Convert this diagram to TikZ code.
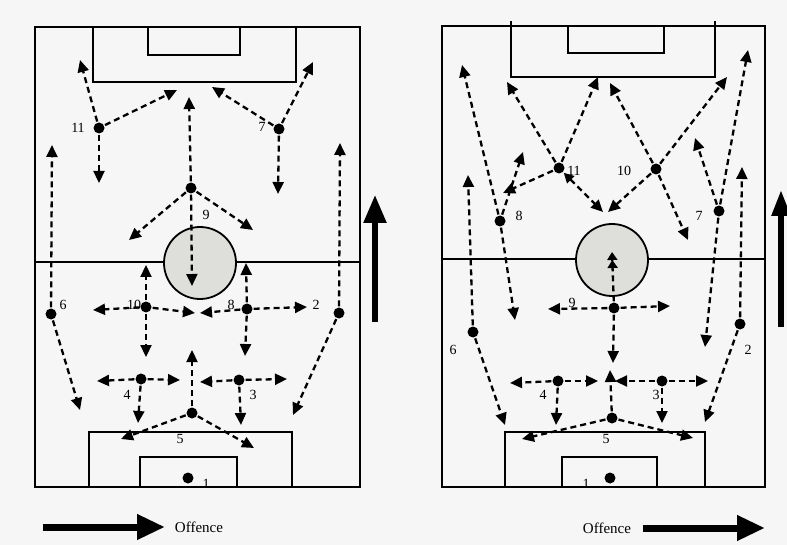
\documentclass[tikz,border=0pt]{standalone}
\usepackage{fontspec}
\setmainfont{Liberation Serif}
\usetikzlibrary{arrows.meta}
\definecolor{paper}{RGB}{246,246,246}
\definecolor{circfill}{RGB}{222,223,219}
\tikzset{
  pitchline/.style={line width=1.8pt, line cap=rect},
  player/.style={circle, fill=black, inner sep=0pt, minimum size=11pt},
  run/.style={line width=2.3pt, dash pattern=on 6pt off 4pt,
    -{Triangle[length=12pt,width=11pt]}, shorten <=1pt},
  num/.style={font=\fontsize{14}{14}\selectfont, inner sep=0pt},
  bigarrow/.style={line width=5.5pt, -{Triangle[length=28pt,width=22pt]}},
  offarrow/.style={line width=7pt, -{Triangle[length=28pt,width=24pt]}},
}
\begin{document}
\begin{tikzpicture}[x=1pt, y=-1pt]
\useasboundingbox[fill=paper] (0,0) rectangle (787,545);

% ---------------- left pitch ----------------
\draw[pitchline] (35,27) rectangle (360,487);
\draw[pitchline] (35,262) -- (164,262);
\draw[pitchline] (236,262) -- (360,262);
\draw[pitchline] (93,27) rectangle (296,82);
\draw[pitchline] (148,27) rectangle (240,55);
\draw[pitchline] (89,487) -- (89,432) -- (292,432) -- (292,487);
\draw[pitchline] (140,487) -- (140,457) -- (237,457) -- (237,487);
\draw[pitchline, fill=circfill] (200,263) circle (36);

\node[player] (L1)  at (188,478) {};
\node[player] (L2)  at (339,313) {};
\node[player] (L3)  at (239,380) {};
\node[player] (L4)  at (141,379) {};
\node[player] (L5)  at (192,413) {};
\node[player] (L6)  at (51,314) {};
\node[player] (L7)  at (279,129) {};
\node[player] (L8)  at (247,309) {};
\node[player] (L9)  at (191,188) {};
\node[player] (L10) at (146,307) {};
\node[player] (L11) at (99,128) {};

\node[num] (tL1)  at (206,484) {1};
\node[num] (tL2)  at (316,305) {2};
\node[num] (tL3)  at (253,395) {3};
\node[num] (tL4)  at (127,395) {4};
\node[num] (tL5)  at (180,439) {5};
\node[num] (tL6)  at (63,305) {6};
\node[num] (tL7)  at (262,127) {7};
\node[num] (tL8)  at (231,305) {8};
\node[num] (tL9)  at (206,215) {9};
\node[num] (tL10) at (134,305) {10};
\node[num] (tL11) at (78,128) {11};

\coordinate (L11a) at (80,60);   \coordinate (L11b) at (177,90);  \coordinate (L11c) at (99,183);
\coordinate (L7a) at (212,87);   \coordinate (L7b) at (313,62);   \coordinate (L7c) at (278,194);
\coordinate (L9a) at (189,97);   \coordinate (L9b) at (192,286);
\coordinate (L9c) at (129,240);  \coordinate (L9d) at (253,230);
\coordinate (L6a) at (52,145);   \coordinate (L6b) at (80,410);
\coordinate (L2a) at (340,143);  \coordinate (L2b) at (293,415);
\coordinate (L10a) at (93,310);  \coordinate (L10b) at (195,313);
\coordinate (L10c) at (146,265); \coordinate (L10d) at (146,357);
\coordinate (L8a) at (200,313);  \coordinate (L8b) at (307,307);
\coordinate (L8c) at (246,263);  \coordinate (L8d) at (245,356);
\coordinate (L4a) at (97,381);   \coordinate (L4b) at (180,380);  \coordinate (L4c) at (138,423);
\coordinate (L3a) at (200,382);  \coordinate (L3b) at (287,379);  \coordinate (L3c) at (241,425);
\coordinate (L5a) at (192,350);  \coordinate (L5b) at (121,439);  \coordinate (L5c) at (254,448);

\foreach \p/\q in {L11/L11a, L11/L11b, L11/L11c, L7/L7a, L7/L7b, L7/L7c,
  L9/L9a, L9/L9b, L9/L9c, L9/L9d, L6/L6a, L6/L6b, L2/L2a, L2/L2b,
  L10/L10a, L10/L10b, L10/L10c, L10/L10d, L8/L8a, L8/L8b, L8/L8c, L8/L8d,
  L4/L4a, L4/L4b, L4/L4c, L3/L3a, L3/L3b, L3/L3c, L5/L5a, L5/L5b, L5/L5c}
  \draw[run] (\p) -- (\q);

% ---------------- right pitch ----------------
\draw[pitchline] (442,26) rectangle (765,487);
\draw[pitchline] (442,259) -- (577,259);
\draw[pitchline] (647,259) -- (765,259);
\draw[pitchline] (511,22) -- (511,77) -- (715,77) -- (715,22);
\draw[pitchline] (568,26) rectangle (664,53);
\draw[pitchline] (505,487) -- (505,432) -- (705,432) -- (705,487);
\draw[pitchline] (562,487) -- (562,457) -- (657,457) -- (657,487);
\draw[pitchline, fill=circfill] (612,260) circle (36);

\node[player] (R1)  at (610,478) {};
\node[player] (R2)  at (740,324) {};
\node[player] (R3)  at (662,381) {};
\node[player] (R4)  at (558,381) {};
\node[player] (R5)  at (612,418) {};
\node[player] (R6)  at (473,332) {};
\node[player] (R7)  at (719,211) {};
\node[player] (R8)  at (500,221) {};
\node[player] (R9)  at (614,308) {};
\node[player] (R10) at (656,169) {};
\node[player] (R11) at (559,168) {};

\node[num] (tR1)  at (586,484) {1};
\node[num] (tR2)  at (748,350) {2};
\node[num] (tR3)  at (656,395) {3};
\node[num] (tR4)  at (543,395) {4};
\node[num] (tR5)  at (606,439) {5};
\node[num] (tR6)  at (453,350) {6};
\node[num] (tR7)  at (699,216) {7};
\node[num] (tR8)  at (519,216) {8};
\node[num] (tR9)  at (572,303) {9};
\node[num] (tR10) at (624,171) {10};
\node[num] (tR11) at (574,171) {11};

\coordinate (R11a) at (507,82);  \coordinate (R11b) at (598,77);
\coordinate (R11c) at (503,193); \coordinate (R11d) at (603,212);
\coordinate (R10a) at (610,83);  \coordinate (R10b) at (727,77);
\coordinate (R10c) at (608,212); \coordinate (R10d) at (688,240);
\coordinate (R8a) at (462,65);   \coordinate (R8b) at (523,152);  \coordinate (R8c) at (515,320);
\coordinate (R7a) at (695,138);  \coordinate (R7b) at (748,50);   \coordinate (R7c) at (705,347);
\coordinate (R6a) at (468,175);  \coordinate (R6b) at (505,425);
\coordinate (R2a) at (742,167);  \coordinate (R2b) at (705,422);
\coordinate (R9a) at (612,252);  \coordinate (R9b) at (548,309);
\coordinate (R9c) at (670,306);  \coordinate (R9d) at (613,363);
\coordinate (R4a) at (510,383);  \coordinate (R4b) at (598,381);  \coordinate (R4c) at (556,425);
\coordinate (R3a) at (615,381);  \coordinate (R3b) at (708,381);  \coordinate (R3c) at (662,423);
\coordinate (R5a) at (610,370);  \coordinate (R5b) at (522,439);  \coordinate (R5c) at (693,438);

\foreach \p/\q in {R11/R11a, R11/R11b, R11/R11c, R10/R10a, R10/R10b, R10/R10c, R10/R10d,
  R8/R8a, R8/R8b, R8/R8c, R7/R7a, R7/R7b, R7/R7c, R6/R6a, R6/R6b, R2/R2a, R2/R2b,
  R9/R9b, R9/R9c, R9/R9d, R4/R4a, R4/R4b, R4/R4c, R3/R3a, R3/R3b, R3/R3c,
  R5/R5a, R5/R5b, R5/R5c}
  \draw[run] (\p) -- (\q);
% two-way run from 11 towards the centre, doubled tip for 9's push
\draw[run, {Triangle[length=10pt,width=10pt]}-{Triangle[length=12pt,width=11pt]}] (R11) -- (R11d);
\draw[run, -{Triangle[length=8pt,width=10pt]Triangle[length=8pt,width=10pt]}] (R9) -- (R9a);

% ---------------- direction of play ----------------
\coordinate (upLa) at (375,322); \coordinate (upLb) at (375,195);
\coordinate (upRa) at (781,327); \coordinate (upRb) at (781,190);
\draw[bigarrow] (upLa) -- (upLb);
\draw[bigarrow, -{Triangle[length=26pt,width=18pt]}] (upRa) -- (upRb);

\coordinate (offLa) at (43,527);  \coordinate (offLb) at (165,527);
\coordinate (offRa) at (643,528); \coordinate (offRb) at (765,528);
\draw[offarrow] (offLa) -- (offLb);
\draw[offarrow] (offRa) -- (offRb);
\node[font=\fontsize{15}{15}\selectfont, inner sep=0pt] (offL) at (199,527) {Offence};
\node[font=\fontsize{15}{15}\selectfont, inner sep=0pt] (offR) at (607,528) {Offence};
\end{tikzpicture}
\end{document}
